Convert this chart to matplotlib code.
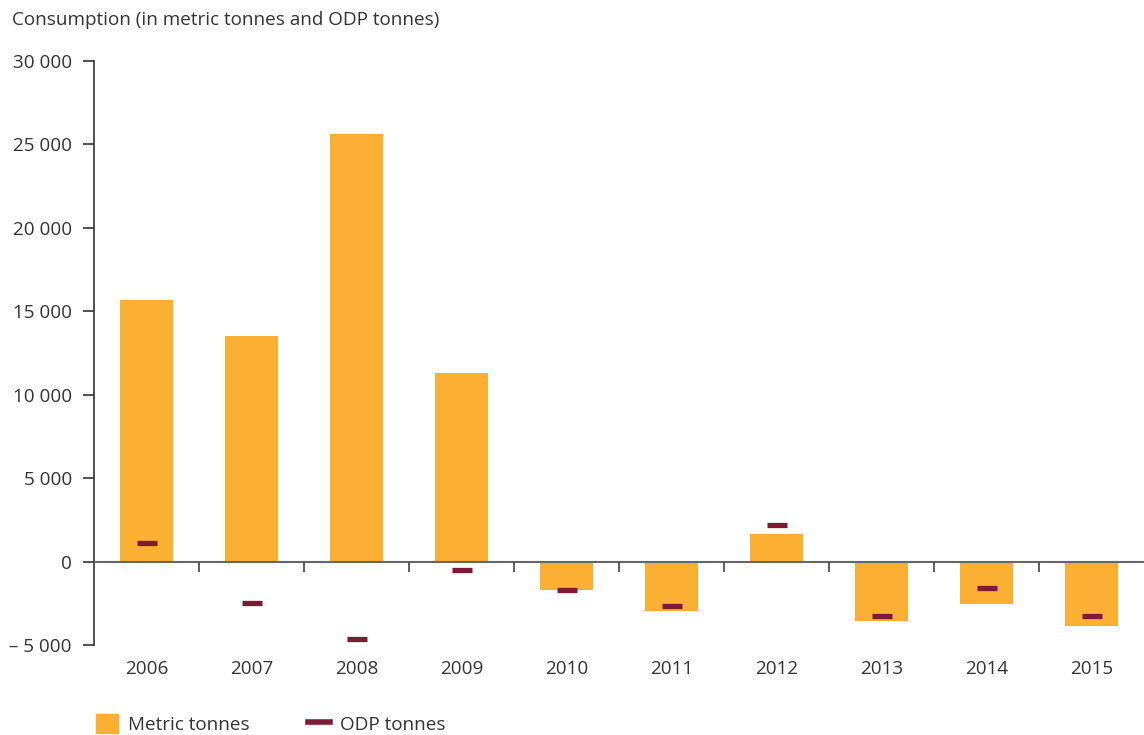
import matplotlib.pyplot as plt
from matplotlib.lines import Line2D
from matplotlib.patches import Patch
import numpy as np

# --- DATA ---
years = ['2006', '2007', '2008', '2009', '2010', '2011', '2012', '2013', '2014', '2015']
metric_tonnes = [15700, 13500, 25650, 11320, -1680, -2940, 1680, -3540, -2520, -3840]
odp_tonnes = [1140, -2460, -4620, -480, -1680, -2640, 2220, -3240, -1560, -3240]
y_ticks = [-5000, 0, 5000, 10000, 15000, 20000, 25000, 30000]

BAR_COLOR = '#FBB034'
ODP_COLOR = '#7E1A33'
TEXT_COLOR = '#333333'
FS = 13.6

plt.rcParams['font.family'] = ['Open Sans', 'DejaVu Sans']
plt.rcParams['font.size'] = FS

fig = plt.figure(figsize=(11.44, 7.35), dpi=100)
ax = fig.add_axes([94 / 1144, 90 / 735, 1050 / 1144, 584 / 735])

x = np.arange(len(years))
ax.bar(x, metric_tonnes, width=0.5, color=BAR_COLOR, zorder=2)
ax.plot(x, odp_tonnes, ls='none', marker='_', ms=14, mew=3.8, color=ODP_COLOR, zorder=3)

# zero line with category separators
ax.axhline(0, color='#666666', lw=1.5, zorder=4)
ax.vlines(np.arange(len(years) - 1) + 0.5, -600, 0, color='#444444', lw=1.2, zorder=4)

ax.set_xlim(-0.5, len(years) - 0.5)
ax.set_ylim(-5000, 30000)

ax.set_yticks(y_ticks)
ax.set_yticklabels([f'{v:,}'.replace(',', ' ').replace('-', '– ') for v in y_ticks])
ax.tick_params(axis='y', length=8, width=1.2, color='#333333', labelcolor=TEXT_COLOR, pad=8)

ax.set_xticks(x)
ax.set_xticklabels(years)
ax.tick_params(axis='x', length=0, labelcolor=TEXT_COLOR, pad=11)

for s in ['top', 'right', 'bottom']:
    ax.spines[s].set_visible(False)
ax.spines['left'].set_color('#333333')
ax.spines['left'].set_linewidth(1.2)

fig.text(12 / 1144, 1 - 20 / 735, 'Consumption (in metric tonnes and ODP tonnes)',
         ha='left', va='center', color=TEXT_COLOR, fontsize=FS)

handles = [Patch(color=BAR_COLOR, label='Metric tonnes'),
           Line2D([], [], color=ODP_COLOR, lw=4, label='ODP tonnes')]
fig.legend(handles=handles, loc='lower left', bbox_to_anchor=(79 / 1144, -16 / 735),
           ncol=2, frameon=False, handlelength=1.15, handleheight=1.2,
           columnspacing=3.1, handletextpad=0.55, fontsize=FS, labelcolor=TEXT_COLOR)

fig.savefig('out.png', dpi=100)
